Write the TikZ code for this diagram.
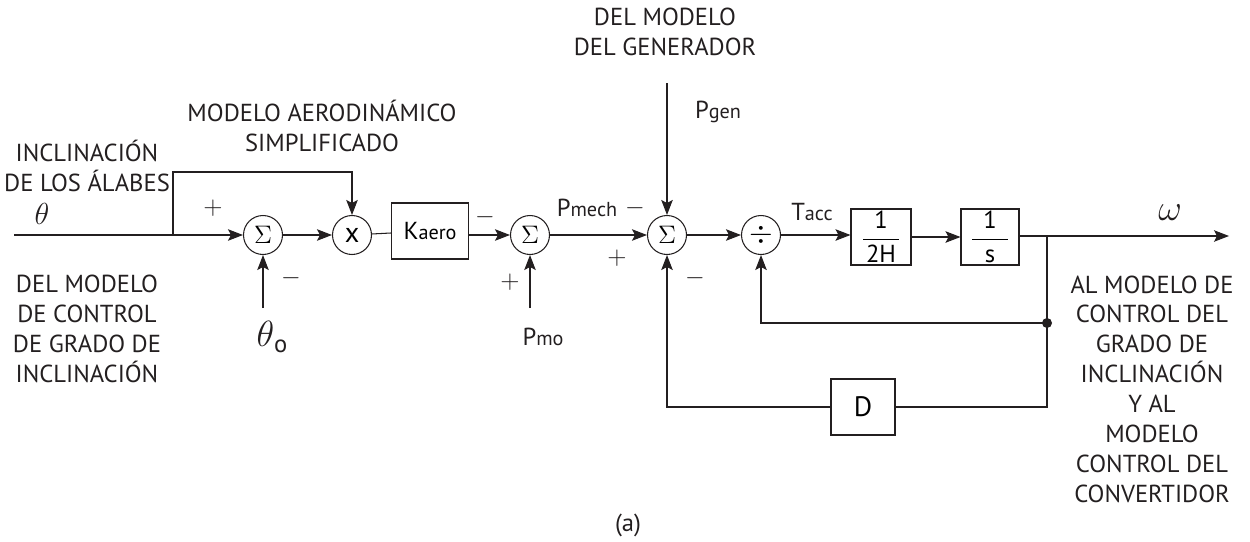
\documentclass[tikz,border=0pt]{standalone}
\usepackage{fontspec}
\setmainfont{PT Sans}
\usetikzlibrary{arrows.meta, positioning, calc}
\definecolor{ink}{RGB}{35, 31, 32}
\tikzset{
    font=\fontsize{14}{17}\selectfont,
    sumnode/.style={circle, draw=ink, line width=0.6pt, minimum size=0.78cm, inner sep=0pt},
    block/.style={rectangle, draw=ink, line width=0.6pt, minimum height=1.12cm, inner sep=0pt},
    wire/.style={line width=0.6pt, draw=ink},
    arrow/.style={-{Stealth[length=3mm, width=2.3mm, inset=0.6mm]}, line width=0.6pt, draw=ink},
    label_text/.style={align=center, inner sep=0pt, text=ink},
    sign/.style={inner sep=0pt, text=ink, font=\Large}
}
\newcommand{\sub}[2]{#1{\fontsize{11.5}{13}\selectfont #2}}
\newcommand{\frc}[2]{$\displaystyle\frac{\makebox[0.72cm]{#1}}{\makebox[0.72cm]{#2}}$}

\begin{document}
\begin{tikzpicture}[x=0.02cm, y=-0.02cm]

    \path [use as bounding box] (0,0) rectangle (1250,541);

    \node (sum1) [sumnode] at (263,235) {\Large$\Sigma$};
    \node (mul)  [sumnode] at (352,235) {\fontsize{16}{17}\selectfont x};
    \node (kaero) [block, minimum width=1.54cm] at (430,231) {\sub{K}{aero}};
    \node (sum2) [sumnode] at (530,235) {\Large$\Sigma$};
    \node (sum3) [sumnode] at (667,235) {\Large$\Sigma$};
    \node (div)  [sumnode] at (761,235) {\LARGE$\div$};
    \node (b2h) [block, minimum width=1.2cm] at (881,237) {\frc{1}{2H}};
    \node (bs)  [block, minimum width=1.16cm] at (990,237) {\frc{1}{s}};
    \node (dblk) [block, minimum width=1.28cm] at (863,407) {\fontsize{16}{17}\selectfont D};

    \coordinate (in)    at (14,235);
    \coordinate (br)    at (173,235);
    \coordinate (ctop)  at (173,172);
    \coordinate (th0in) at (263,308);
    \coordinate (pmoin) at (530,308);
    \coordinate (pgenin) at (667,83);
    \coordinate (tap)   at (1047,236);
    \coordinate (dot)   at (1047,323);
    \coordinate (out)   at (1229,236);

    \draw [arrow] (in) -- (sum1.west);
    \draw [arrow] (br) -- (ctop) -| (mul.north);
    \draw [arrow] (th0in) -- (sum1.south);
    \draw [arrow] (sum1) -- (mul);
    \draw [wire]  (mul) -- (kaero);
    \draw [arrow] (kaero.east |- sum2) -- (sum2.west);
    \draw [arrow] (pmoin) -- (sum2.south);
    \draw [arrow] (sum2) -- (sum3);
    \draw [arrow] (pgenin) -- (sum3.north);
    \draw [arrow] (sum3) -- (div);
    \draw [arrow] (div.east) -- (b2h.west |- div);
    \draw [arrow] (b2h) -- (bs);
    \draw [arrow] (bs.east |- out) -- (out);
    \draw [wire]  (tap) -- (dot) |- (dblk.east);
    \draw [arrow] (dot) -| (div.south);
    \draw [arrow] (dblk.west) -| (sum3.south);
    \fill [ink] (dot) circle [radius=0.1cm];

    \node (incl) [label_text] at (87,166) {INCLINACIÓN\\DE LOS ÁLABES};
    \node (theta) [label_text] at (42,214) {\LARGE$\theta$};
    \node (aero) [label_text] at (322,126) {MODELO AERODINÁMICO\\SIMPLIFICADO};
    \node (delmod) [label_text] at (87,329) {DEL MODELO\\DE CONTROL\\DE GRADO DE\\INCLINACIÓN};
    \node (theta0) [label_text] at (272,337) {\huge$\theta$\raisebox{-0.3ex}{\fontsize{14}{17}\selectfont o}};
    \node (pmo) [label_text] at (543,337) {\sub{P}{mo}};
    \node (pmech) [label_text] at (587,208) {\sub{P}{mech}};
    \node (pgen) [label_text] at (718,112) {\sub{P}{gen}};
    \node (gen) [label_text] at (665,32) {DEL MODELO\\DEL GENERADOR};
    \node (tacc) [label_text] at (812,212) {\sub{T}{acc}};
    \node (omega) [label_text] at (1170,213) {\huge$\omega$};
    \node (almod) [label_text] at (1152,389) {AL MODELO DE\\CONTROL DEL\\GRADO DE\\INCLINACIÓN\\Y AL\\MODELO\\CONTROL DEL\\CONVERTIDOR};
    \node (cap) [label_text] at (628,525) {(a)};

    \node [sign] at (213,208) {$+$};
    \node [sign] at (291,278) {$-$};
    \node [sign] at (485,217) {$-$};
    \node [sign] at (510,282) {$+$};
    \node [sign] at (635,208) {$-$};
    \node [sign] at (617,258) {$+$};
    \node [sign] at (695,278) {$-$};

\end{tikzpicture}
\end{document}
